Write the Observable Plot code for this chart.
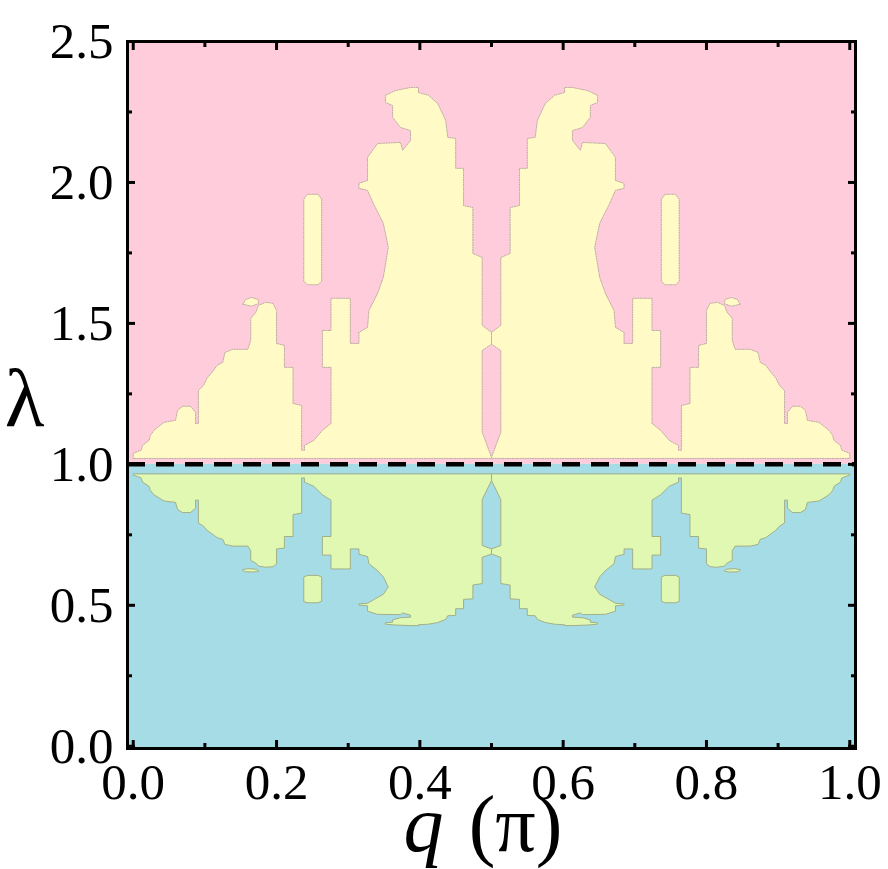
<!DOCTYPE html>
<html><head><meta charset="utf-8">
<script src="https://cdn.jsdelivr.net/npm/d3@7"></script>
<script src="https://cdn.jsdelivr.net/npm/@observablehq/plot@0.6"></script>
<style>html,body{margin:0;padding:0;background:#fff} #chart{width:888px;height:869px}</style>
</head><body><div id="chart"></div>
<script>
// ---------- data ----------
const qDomain = [-0.008, 1.008];
const lambdaDomain = [-0.008, 2.5];
const criticalLambda = [1];
const xMajorTicks = [0, 0.2, 0.4, 0.6, 0.8, 1.0];
const xMinorTicks = [0.1, 0.3, 0.5, 0.7, 0.9];
const yMajorTicks = [0, 0.5, 1.0, 1.5, 2.0, 2.5];
const yMinorTicks = [0.25, 0.75, 1.25, 1.75, 2.25];
const bandAbove = [{phase: "λ > 1", from: 1, to: 2.5}];
const bandBelow = [{phase: "λ < 1", from: -0.008, to: 1}];

// yellow phase (λ > 1), boundary vertices [q, λ]
const yellowLeft = [
[0.000,1.021],[0.000,1.039],[0.011,1.050],[0.013,1.067],[0.022,1.085],[0.024,1.103],[0.029,1.121],[0.036,1.135],
[0.043,1.149],[0.059,1.156],[0.062,1.192],[0.069,1.206],[0.080,1.206],[0.087,1.184],[0.087,1.145],[0.091,1.145],
[0.091,1.262],[0.098,1.280],[0.103,1.305],[0.112,1.333],[0.117,1.351],[0.125,1.362],[0.128,1.397],[0.139,1.408],
[0.160,1.408],[0.164,1.440],[0.164,1.518],[0.171,1.539],[0.175,1.564],[0.185,1.575],[0.195,1.571],[0.200,1.546],
[0.200,1.429],[0.211,1.422],[0.211,1.344],[0.223,1.344],[0.223,1.216],[0.235,1.209],[0.235,1.050],[0.239,1.050],
[0.239,1.067],[0.252,1.085],[0.264,1.121],[0.276,1.145],[0.276,1.344],[0.264,1.344],[0.264,1.475],[0.276,1.475],
[0.276,1.589],[0.303,1.589],[0.303,1.429],[0.315,1.429],[0.315,1.468],[0.327,1.486],[0.329,1.546],[0.341,1.606],
[0.349,1.663],[0.356,1.770],[0.349,1.855],[0.335,1.926],[0.327,1.972],[0.315,1.979],[0.315,1.997],[0.327,2.007],
[0.327,2.089],[0.341,2.138],[0.373,2.142],[0.376,2.114],[0.387,2.149],[0.387,2.184],[0.373,2.195],[0.362,2.231],
[0.362,2.273],[0.352,2.284],[0.352,2.309],[0.366,2.326],[0.387,2.337],[0.398,2.337],[0.398,2.319],[0.412,2.309],
[0.425,2.280],[0.436,2.220],[0.439,2.160],[0.450,2.156],[0.450,2.050],[0.461,2.050],[0.461,1.918],[0.474,1.911],
[0.474,1.748],[0.487,1.734],[0.487,1.493],[0.500,1.468],[0.500,1.426],[0.487,1.404],[0.487,1.114],[0.500,1.025],
[0.500,1.021]
];
const yellowRight = [
[1.000,1.021],[1.000,1.039],[0.989,1.050],[0.987,1.067],[0.978,1.085],[0.976,1.103],[0.971,1.121],[0.964,1.135],
[0.957,1.149],[0.941,1.156],[0.938,1.192],[0.931,1.206],[0.920,1.206],[0.913,1.184],[0.913,1.145],[0.909,1.145],
[0.909,1.262],[0.902,1.280],[0.897,1.305],[0.888,1.333],[0.883,1.351],[0.875,1.362],[0.872,1.397],[0.861,1.408],
[0.840,1.408],[0.836,1.440],[0.836,1.518],[0.829,1.539],[0.825,1.564],[0.815,1.575],[0.805,1.571],[0.800,1.546],
[0.800,1.429],[0.789,1.422],[0.789,1.344],[0.777,1.344],[0.777,1.216],[0.765,1.209],[0.765,1.050],[0.761,1.050],
[0.761,1.067],[0.748,1.085],[0.736,1.121],[0.724,1.145],[0.724,1.344],[0.736,1.344],[0.736,1.475],[0.724,1.475],
[0.724,1.589],[0.697,1.589],[0.697,1.429],[0.685,1.429],[0.685,1.468],[0.673,1.486],[0.671,1.546],[0.659,1.606],
[0.651,1.663],[0.644,1.770],[0.651,1.855],[0.665,1.926],[0.673,1.972],[0.685,1.979],[0.685,1.997],[0.673,2.007],
[0.673,2.089],[0.659,2.138],[0.627,2.142],[0.624,2.114],[0.613,2.149],[0.613,2.184],[0.627,2.195],[0.638,2.231],
[0.638,2.273],[0.648,2.284],[0.648,2.309],[0.634,2.326],[0.613,2.337],[0.602,2.337],[0.602,2.319],[0.588,2.309],
[0.575,2.280],[0.564,2.220],[0.561,2.160],[0.550,2.156],[0.550,2.050],[0.539,2.050],[0.539,1.918],[0.526,1.911],
[0.526,1.748],[0.513,1.734],[0.513,1.493],[0.500,1.468],[0.500,1.426],[0.513,1.404],[0.513,1.114],[0.500,1.025],
[0.500,1.021]
];
const yellowTuftLeft = [[0.153,1.568],[0.157,1.585],[0.165,1.592],[0.174,1.585],[0.175,1.570],[0.165,1.561]];
const yellowTuftRight = [[0.847,1.568],[0.843,1.585],[0.835,1.592],[0.826,1.585],[0.825,1.570],[0.835,1.561]];
const yellowIslandLeft = [[0.238,1.650],[0.238,1.940],[0.243,1.958],[0.258,1.958],[0.263,1.940],[0.263,1.650],[0.258,1.637],[0.243,1.637]];
const yellowIslandRight = [[0.762,1.650],[0.762,1.940],[0.757,1.958],[0.742,1.958],[0.737,1.940],[0.737,1.650],[0.742,1.637],[0.757,1.637]];

// green phase (λ < 1), boundary vertices [q, λ]
const greenLeft = [
[0.000,0.965],[0.000,0.962],[0.011,0.952],[0.013,0.937],[0.022,0.922],[0.024,0.907],[0.029,0.892],[0.036,0.881],
[0.043,0.870],[0.059,0.865],[0.062,0.839],[0.069,0.829],[0.080,0.829],[0.087,0.845],[0.087,0.873],[0.091,0.873],
[0.091,0.792],[0.098,0.781],[0.103,0.766],[0.112,0.750],[0.117,0.740],[0.125,0.734],[0.128,0.716],[0.139,0.710],
[0.160,0.710],[0.164,0.694],[0.164,0.659],[0.171,0.650],[0.175,0.639],[0.185,0.635],[0.195,0.637],[0.200,0.647],
[0.200,0.700],[0.211,0.703],[0.211,0.744],[0.223,0.744],[0.223,0.822],[0.235,0.827],[0.235,0.952],[0.239,0.952],
[0.239,0.937],[0.252,0.922],[0.264,0.892],[0.276,0.873],[0.276,0.744],[0.264,0.744],[0.264,0.678],[0.276,0.678],
[0.276,0.629],[0.303,0.629],[0.303,0.700],[0.315,0.700],[0.315,0.681],[0.327,0.673],[0.329,0.647],[0.341,0.623],
[0.349,0.601],[0.356,0.565],[0.349,0.539],[0.335,0.519],[0.327,0.507],[0.315,0.505],[0.315,0.501],[0.327,0.498],
[0.327,0.479],[0.341,0.468],[0.373,0.467],[0.376,0.473],[0.387,0.465],[0.387,0.458],[0.373,0.456],[0.362,0.448],
[0.362,0.440],[0.352,0.438],[0.352,0.433],[0.366,0.430],[0.387,0.428],[0.398,0.428],[0.398,0.431],[0.412,0.433],
[0.425,0.439],[0.436,0.450],[0.439,0.463],[0.450,0.464],[0.450,0.488],[0.461,0.488],[0.461,0.521],[0.474,0.523],
[0.474,0.572],[0.487,0.577],[0.487,0.670],[0.500,0.682],[0.500,0.700],[0.487,0.712],[0.487,0.875],[0.500,0.943],
[0.500,0.965]
];
const greenRight = [
[1.000,0.965],[1.000,0.962],[0.989,0.952],[0.987,0.937],[0.978,0.922],[0.976,0.907],[0.971,0.892],[0.964,0.881],
[0.957,0.870],[0.941,0.865],[0.938,0.839],[0.931,0.829],[0.920,0.829],[0.913,0.845],[0.913,0.873],[0.909,0.873],
[0.909,0.792],[0.902,0.781],[0.897,0.766],[0.888,0.750],[0.883,0.740],[0.875,0.734],[0.872,0.716],[0.861,0.710],
[0.840,0.710],[0.836,0.694],[0.836,0.659],[0.829,0.650],[0.825,0.639],[0.815,0.635],[0.805,0.637],[0.800,0.647],
[0.800,0.700],[0.789,0.703],[0.789,0.744],[0.777,0.744],[0.777,0.822],[0.765,0.827],[0.765,0.952],[0.761,0.952],
[0.761,0.937],[0.748,0.922],[0.736,0.892],[0.724,0.873],[0.724,0.744],[0.736,0.744],[0.736,0.678],[0.724,0.678],
[0.724,0.629],[0.697,0.629],[0.697,0.700],[0.685,0.700],[0.685,0.681],[0.673,0.673],[0.671,0.647],[0.659,0.623],
[0.651,0.601],[0.644,0.565],[0.651,0.539],[0.665,0.519],[0.673,0.507],[0.685,0.505],[0.685,0.501],[0.673,0.498],
[0.673,0.479],[0.659,0.468],[0.627,0.467],[0.624,0.473],[0.613,0.465],[0.613,0.458],[0.627,0.456],[0.638,0.448],
[0.638,0.440],[0.648,0.438],[0.648,0.433],[0.634,0.430],[0.613,0.428],[0.602,0.428],[0.602,0.431],[0.588,0.433],
[0.575,0.439],[0.564,0.450],[0.561,0.463],[0.550,0.464],[0.550,0.488],[0.539,0.488],[0.539,0.521],[0.526,0.523],
[0.526,0.572],[0.513,0.577],[0.513,0.670],[0.500,0.682],[0.500,0.700],[0.513,0.712],[0.513,0.875],[0.500,0.943],
[0.500,0.965]
];
const greenTuftLeft = [[0.153,0.626],[0.160,0.630],[0.172,0.628],[0.175,0.622],[0.168,0.618],[0.156,0.619]];
const greenTuftRight = [[0.847,0.626],[0.840,0.630],[0.828,0.628],[0.825,0.622],[0.832,0.618],[0.844,0.619]];
const greenIslandLeft = [[0.238,0.515],[0.238,0.600],[0.243,0.606],[0.258,0.606],[0.263,0.600],[0.263,0.515],[0.258,0.509],[0.243,0.509]];
const greenIslandRight = [[0.762,0.515],[0.762,0.600],[0.757,0.606],[0.742,0.606],[0.737,0.600],[0.737,0.515],[0.742,0.509],[0.757,0.509]];

// ---------- styles ----------
const PINK = "#ffccdc", BLUE = "#a6dce5", YELLOW = "#fffac6", GREEN = "#e1f8b3";
const FONT = "'Liberation Serif', 'Times New Roman', serif";

const yellowPoly = pts => Plot.line(pts, {x: d => d[0], y: d => d[1], fill: YELLOW, stroke: "#b5a69c", strokeWidth: 0.9, strokeDasharray: "1.2,1.3", curve: "linear-closed"});
const greenPoly = pts => Plot.line(pts, {x: d => d[0], y: d => d[1], fill: GREEN, stroke: "#9fa97e", strokeWidth: 0.9, curve: "linear-closed"});

const chart = Plot.plot({
  width: 888, height: 869,
  marginLeft: 127, marginRight: 33, marginTop: 41, marginBottom: 121,
  x: {domain: qDomain},
  y: {domain: lambdaDomain},
  style: {fontFamily: FONT, background: "white", color: "black", overflow: "visible"},
  marks: [
    Plot.rect(bandAbove, {x1: () => qDomain[0], x2: () => qDomain[1], y1: "from", y2: "to", fill: PINK}),
    Plot.rect(bandBelow, {x1: () => qDomain[0], x2: () => qDomain[1], y1: "from", y2: "to", fill: BLUE}),
    yellowPoly(yellowLeft), yellowPoly(yellowRight),
    yellowPoly(yellowTuftLeft), yellowPoly(yellowTuftRight),
    yellowPoly(yellowIslandLeft), yellowPoly(yellowIslandRight),
    greenPoly(greenLeft), greenPoly(greenRight),
    greenPoly(greenTuftLeft), greenPoly(greenTuftRight),
    greenPoly(greenIslandLeft), greenPoly(greenIslandRight),
    Plot.ruleY(criticalLambda, {stroke: "black", strokeWidth: 4.5, strokeDasharray: "18,11"}),
    Plot.frame({stroke: "black", strokeWidth: 3}),
    Plot.axisX(xMajorTicks, {anchor: "bottom", tickSize: -8, tickPadding: 22, strokeWidth: 3, tickFormat: d3.format(".1f"), fontSize: 51, fontFamily: FONT, label: null}),
    Plot.axisX(xMinorTicks, {anchor: "bottom", tickSize: -5, strokeWidth: 3, fill: "none", label: null}),
    Plot.axisX(xMajorTicks, {anchor: "top", tickSize: -8, strokeWidth: 3, fill: "none", label: null}),
    Plot.axisX(xMinorTicks, {anchor: "top", tickSize: -5, strokeWidth: 3, fill: "none", label: null}),
    Plot.axisY(yMajorTicks, {anchor: "left", tickSize: -8, tickPadding: 22, strokeWidth: 3, tickFormat: d3.format(".1f"), fontSize: 51, fontFamily: FONT, label: null}),
    Plot.axisY(yMinorTicks, {anchor: "left", tickSize: -5, strokeWidth: 3, fill: "none", label: null}),
    Plot.axisY(yMajorTicks, {anchor: "right", tickSize: -8, strokeWidth: 3, fill: "none", label: null}),
    Plot.axisY(yMinorTicks, {anchor: "right", tickSize: -5, strokeWidth: 3, fill: "none", label: null}),
    Plot.text(["λ"], {text: d => d, frameAnchor: "left", textAnchor: "middle", lineAnchor: "middle", dx: -103, dy: 5, fontSize: 82, fontFamily: FONT}),
    Plot.text(["q"], {text: d => d, frameAnchor: "bottom", textAnchor: "middle", lineAnchor: "middle", dx: -68, dy: 77, fontSize: 80, fontStyle: "italic", fontFamily: FONT}),
    Plot.text(["(π)"], {text: d => d, frameAnchor: "bottom", textAnchor: "middle", lineAnchor: "middle", dx: 24, dy: 77, fontSize: 80, fontFamily: FONT})
  ]
});
document.getElementById("chart").appendChild(chart);
</script>
</body></html>
